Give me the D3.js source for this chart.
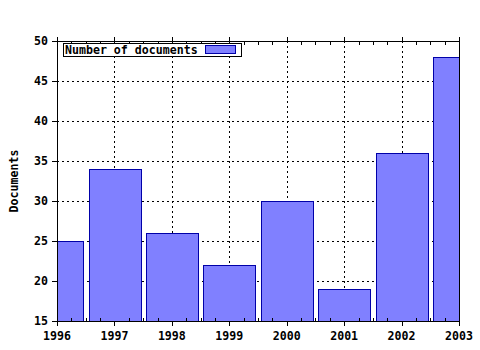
<html>
<script src="https://d3js.org/d3.v7.min.js"></script>
<style>
body {margin:0; background:#fff;}
text {font-family: "DejaVu Sans Mono", monospace; font-weight: bold; font-size: 11.6px;}
</style>
<body>
<svg width=480 height=350></svg>
<script>
var years = [1996, 1997, 1998, 1999, 2000, 2001, 2002, 2003];
var docs = [25, 34, 26, 22, 30, 19, 36, 48];
var yTicks = [15, 20, 25, 30, 35, 40, 45, 50];
var seriesName = "Number of documents";

var pl = 57, pt = 41, pr = 459, pb = 321;
var svg = d3.select("svg");
var xs = d3.scaleLinear().domain([1996, 2003]).range([pl, pr]);
var ys = d3.scaleLinear().domain([15, 50]).range([pb, pt]);

svg.append("defs").append("clipPath").attr("id", "plot")
  .append("rect").attr("x", pl).attr("y", pt).attr("width", pr - pl).attr("height", pb - pt);

// grid
var grid = svg.append("g").attr("stroke", "#000").attr("stroke-width", 1).attr("stroke-dasharray", "2,3");
grid.selectAll(".gx").data(years.slice(1, -1)).enter().append("line")
  .attr("x1", d => Math.round(xs(d)) + 0.5).attr("x2", d => Math.round(xs(d)) + 0.5)
  .attr("y1", pt).attr("y2", pb);
grid.selectAll(".gy").data(yTicks.slice(1, -1)).enter().append("line")
  .attr("x1", pl - 5).attr("x2", pr)
  .attr("y1", d => Math.round(ys(d)) + 0.5).attr("y2", d => Math.round(ys(d)) + 0.5);

// bars
var bw = (xs(1) - xs(0)) * 0.9;
svg.append("g").attr("clip-path", "url(#plot)")
  .selectAll("rect").data(docs).enter().append("rect")
  .attr("x", (d, i) => Math.round(xs(years[i]) - bw / 2) + 0.5)
  .attr("y", d => Math.round(ys(d)) + 0.5)
  .attr("width", Math.round(bw))
  .attr("height", d => pb - Math.round(ys(d)))
  .attr("fill", "#8080ff").attr("stroke", "#0000a8").attr("stroke-width", 1);

// frame
svg.append("rect").attr("x", pl + 0.5).attr("y", pt + 0.5)
  .attr("width", pr - pl).attr("height", pb - pt)
  .attr("fill", "none").attr("stroke", "#000");

// ticks
var minor = d3.range(1996, 2003.01, 0.25);
var ax = svg.append("g").attr("stroke", "#000");
ax.selectAll(".mb").data(minor).enter().append("line")
  .attr("x1", d => Math.round(xs(d)) + 0.5).attr("x2", d => Math.round(xs(d)) + 0.5)
  .attr("y1", pb + 0.5).attr("y2", d => (d % 1 == 0) ? pb + 5 : pb - 3);
ax.selectAll(".mt").data(minor).enter().append("line")
  .attr("x1", d => Math.round(xs(d)) + 0.5).attr("x2", d => Math.round(xs(d)) + 0.5)
  .attr("y1", pt + 0.5).attr("y2", d => (d % 1 == 0) ? pt - 4 : pt + 4);
ax.selectAll(".yt").data(yTicks).enter().append("line")
  .attr("x1", pl - 5).attr("x2", pl + 0.5)
  .attr("y1", d => Math.round(ys(d)) + 0.5).attr("y2", d => Math.round(ys(d)) + 0.5);

svg.append("g").selectAll("text").data(years).enter().append("text")
  .attr("x", d => xs(d)).attr("y", pb + 19)
  .attr("text-anchor", "middle").text(d => d);
svg.append("g").selectAll("text").data(yTicks).enter().append("text")
  .attr("x", pl - 9).attr("y", d => ys(d) + 4)
  .attr("text-anchor", "end").text(d => d);

svg.append("text").attr("transform", "translate(18," + ((pt + pb) / 2) + ") rotate(-90)")
  .attr("text-anchor", "middle").text("Documents");

// legend
var lg = svg.append("g");
lg.append("rect").attr("x", 63.5).attr("y", 43.5).attr("width", 178).attr("height", 13)
  .attr("fill", "#fff").attr("stroke", "#000");
lg.append("text").attr("x", 65).attr("y", 54).text(seriesName);
lg.append("rect").attr("x", 205.5).attr("y", 45.5).attr("width", 30).attr("height", 8)
  .attr("fill", "#8080ff").attr("stroke", "#0000a8");
</script>
</body>
</html>
